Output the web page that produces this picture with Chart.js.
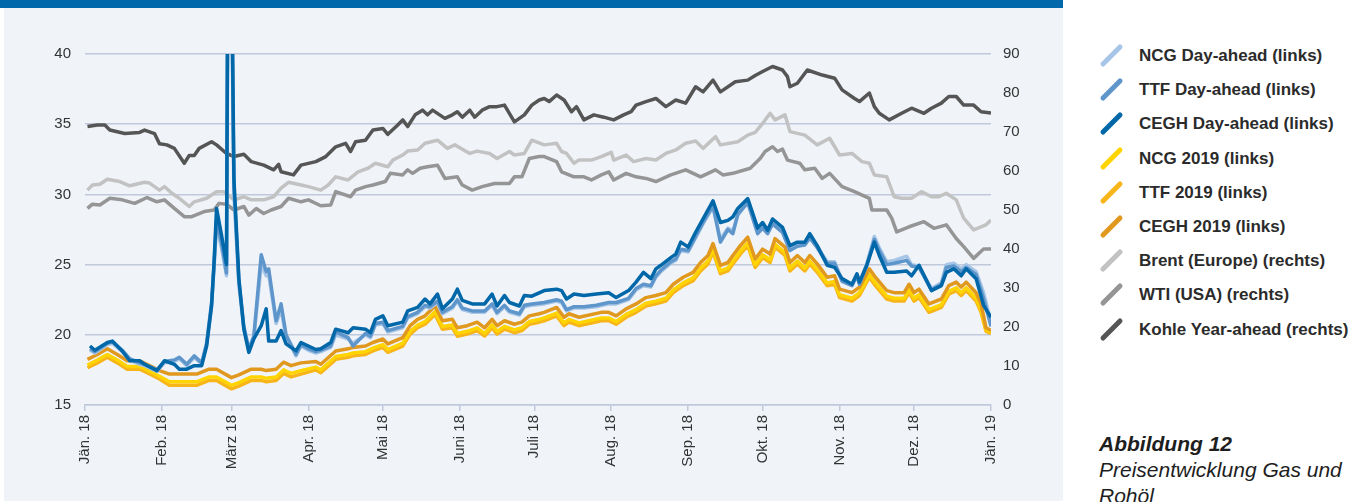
<!DOCTYPE html>
<html>
<head>
<meta charset="utf-8">
<script src="https://cdn.jsdelivr.net/npm/chart.js@4.4.1/dist/chart.umd.min.js"></script>
<style>
  html, body { margin: 0; padding: 0; background: #ffffff; }
  body { width: 1368px; height: 502px; overflow: hidden; position: relative; font-family: "Liberation Sans", Arial, sans-serif; }
  #bar { position: absolute; left: 0; top: 0; width: 1063px; height: 8px; background: #0068ab; }
  #panel { position: absolute; left: 4px; top: 8px; width: 1059px; height: 493px; background: #f0f4f9; }
  #wrap { position: absolute; left: 0; top: 8px; width: 1063px; height: 494px; }
  #legend { position: absolute; left: 1097px; top: 0; }
  .item { position: absolute; left: 0; height: 20px; white-space: nowrap; }
  .mark { position: absolute; left: 0; top: 7px; width: 29px; height: 5px; border-radius: 3px; transform: rotate(-45deg); }
  .txt { position: absolute; left: 42px; top: 0; font-weight: bold; font-size: 17px; line-height: 20px; color: #2b2b2b; }
  #caption { position: absolute; left: 1099px; top: 431px; font-size: 21px; line-height: 26px; color: #1e1e1e; font-style: italic; }
  #caption b { font-weight: bold; }
</style>
</head>
<body>
<div id="bar"></div>
<div id="panel"></div>
<div id="wrap"><canvas id="chart"></canvas></div>
<div id="legend"></div>
<div id="caption"><b>Abbildung 12</b><br>Preisentwicklung Gas und<br>Rohöl</div>
<script>
// x axis: day of year 2018 (0 = 1. Jän.)
const monthDays = [0, 31, 59, 90, 120, 151, 181, 212, 243, 273, 304, 334, 365];
const monthLabels = ['Jän. 18', 'Feb. 18', 'März 18', 'Apr. 18', 'Mai 18', 'Juni 18', 'Juli 18',
  'Aug. 18', 'Sep. 18', 'Okt. 18', 'Nov. 18', 'Dez. 18', 'Jän. 19'];

// Day-ahead (links, EUR/MWh)
const daDays = [
  2, 4, 9, 11, 15, 18, 22, 24, 29,
  32, 36, 38, 41, 44, 47, 49, 51, 52, 53, 55, 57, 58,
  60, 62, 64, 66, 68, 71, 73, 74, 77, 79, 81, 83, 85, 87,
  90, 93, 95, 99, 101, 106, 108, 113, 115, 117,
  120, 122, 128, 130, 134, 137, 139, 142, 144, 148, 150,
  152, 156, 161, 164, 166, 169, 171, 175, 177, 180,
  185, 190, 192, 194, 197, 201, 206, 211,
  214, 219, 222, 225, 228, 230, 232, 236, 238, 240,
  243, 246, 249, 253, 256, 259, 261, 263, 267, 271,
  273, 275, 277, 281, 284, 287, 290, 292, 295, 299, 302,
  305, 309, 311, 312, 315, 318, 320, 323, 326, 331, 333,
  336, 341, 345, 347, 350, 353, 355, 359, 362, 365];
const ceghDA = [
  19.2, 18.9, 19.45, 19.55, 18.85, 18.15, 18.15, 17.9, 17.45,
  18.15, 17.9, 17.55, 17.55, 17.8, 17.8, 19.2, 22.1, 25.2, 29.0, 27.1, 25.0, 65,
  31.1, 24.0, 20.4, 18.75, 19.7, 20.65, 21.85, 19.55, 19.55, 20.3, 19.35, 19.1, 18.85, 19.45,
  19.2, 18.95, 19.0, 19.45, 20.4, 20.15, 20.5, 20.4, 20.15, 21.1,
  21.35, 20.65, 20.9, 21.7, 21.95, 22.55, 22.2, 22.9, 21.85, 22.55, 23.25,
  22.45, 22.2, 22.2, 22.9, 22.05, 22.8, 22.3, 22.05, 22.8, 22.75,
  23.15, 23.25, 23.15, 22.55, 22.9, 22.8, 22.9, 23.0,
  22.65, 23.15, 23.75, 24.45, 24.0, 24.7, 24.95, 25.5, 25.75, 26.6,
  26.25, 27.3, 28.25, 29.55, 28.0, 28.15, 28.4, 29.0, 29.7, 27.6,
  28.0, 27.45, 28.25, 27.65, 26.35, 26.6, 26.6, 27.2, 26.35, 24.95, 24.8,
  24.0, 23.6, 24.35, 23.75, 24.95, 26.6, 25.65, 24.45, 24.45, 24.55, 24.2,
  24.95, 23.15, 23.5, 24.45, 24.7, 24.2, 24.7, 24.0, 22.1, 21.25];
const ttfDA = [
  19.0, 18.8, 19.4, 19.5, 18.9, 18.3, 18.0, 17.9, 17.5,
  18.1, 18.2, 18.4, 17.9, 18.5, 18.0, 19.4, 22.3, 25.0, 28.2, 26.5, 24.4, 63,
  30.5, 23.8, 20.6, 19.0, 19.9, 25.7, 24.5, 24.7, 21.0, 22.2, 20.0, 19.3, 18.6, 19.3,
  19.0, 18.8, 18.9, 19.2, 20.2, 19.8, 19.2, 20.1, 19.9, 20.8,
  20.9, 20.3, 20.6, 21.3, 21.6, 22.1, 22.0, 22.4, 21.6, 22.0, 22.5,
  21.9, 21.7, 21.7, 22.2, 21.6, 22.1, 21.7, 21.5, 22.1, 22.2,
  22.3, 22.5, 22.4, 21.8, 22.0, 22.0, 22.1, 22.3,
  22.3, 22.6, 23.3, 23.6, 23.5, 24.2, 24.6, 25.2, 25.4, 26.1,
  26.0, 27.0, 28.0, 29.2, 26.6, 27.5, 27.2, 28.6, 29.4, 27.2,
  27.6, 27.2, 27.9, 27.3, 26.0, 26.3, 26.4, 26.9, 26.2, 25.1, 25.1,
  23.8, 23.5, 24.2, 23.6, 25.0, 26.8, 26.0, 25.0, 25.1, 25.3, 24.9,
  24.8, 23.2, 23.6, 24.8, 24.9, 24.5, 24.8, 24.3, 22.6, 20.6];
const ncgDA = [
  18.9, 18.7, 19.3, 19.4, 18.8, 18.2, 17.9, 17.8, 17.4,
  18.0, 18.1, 18.3, 17.8, 18.4, 17.9, 19.3, 22.0, 24.8, 27.8, 26.2, 24.2, 62,
  30.0, 23.5, 20.4, 18.9, 19.7, 25.0, 24.2, 24.3, 20.8, 21.8, 19.8, 19.2, 18.5, 19.2,
  18.9, 18.7, 18.8, 19.1, 20.0, 19.7, 19.4, 20.0, 19.8, 20.7,
  20.8, 20.2, 20.5, 21.2, 21.5, 22.0, 21.9, 22.3, 21.5, 21.9, 22.4,
  21.8, 21.6, 21.6, 22.1, 21.5, 22.0, 21.6, 21.4, 22.0, 22.1,
  22.2, 22.4, 22.3, 21.7, 21.9, 21.9, 22.0, 22.2,
  22.2, 22.5, 23.2, 23.5, 23.4, 24.1, 24.5, 25.1, 25.3, 26.0,
  25.9, 26.9, 27.9, 29.1, 26.8, 27.6, 27.4, 28.5, 29.5, 27.4,
  27.7, 27.3, 28.0, 27.4, 26.1, 26.4, 26.5, 27.0, 26.3, 25.2, 25.2,
  23.9, 23.6, 24.3, 23.7, 25.1, 27.0, 26.2, 25.2, 25.3, 25.6, 25.0,
  24.9, 23.3, 23.7, 25.0, 25.1, 24.7, 25.0, 24.5, 23.0, 20.9];

// Year-ahead 2019 (links, EUR/MWh)
const fwdDays = [
  1, 5, 9, 13, 17, 22, 25, 30,
  34, 37, 41, 45, 50, 53, 59,
  62, 67, 71, 73, 77, 80, 83, 87,
  93, 95, 101, 106, 108, 113, 116,
  120, 122, 128, 131, 134, 137, 141, 144, 148, 150,
  154, 158, 161, 164, 166, 169, 173, 176, 179,
  183, 185, 190, 193, 195, 199, 208, 211,
  214, 218, 222, 226, 230, 234, 237, 241,
  245, 248, 251, 253, 256, 259, 261, 264, 267, 270,
  273, 276, 278, 282, 284, 287, 290, 292, 295, 299, 302,
  304, 309, 312, 316, 318, 323, 326, 330, 332, 334,
  336, 340, 345, 348, 351, 353, 355, 359, 361, 363, 365];
const cegh2019 = [
  18.25, 18.6, 19.0, 18.6, 18.15, 18.15, 17.9, 17.45,
  17.2, 17.2, 17.2, 17.2, 17.55, 17.55, 16.95,
  17.15, 17.55, 17.55, 17.45, 17.55, 18.05, 17.8, 18.0,
  18.1, 17.9, 18.85, 19.0, 19.1, 19.2, 19.45,
  19.7, 19.35, 19.8, 20.65, 21.1, 21.35, 22.05, 21.0, 21.1, 20.5,
  20.65, 20.9, 20.5, 21.1, 20.65, 21.0, 20.75, 20.9, 21.35,
  21.5, 21.6, 21.95, 21.25, 21.5, 21.25, 21.6, 21.6,
  21.35, 21.85, 22.2, 22.65, 22.8, 23.0, 23.6, 24.1,
  24.45, 25.15, 25.65, 26.5, 24.95, 25.15, 25.65, 26.35, 26.95, 25.4,
  26.1, 25.75, 26.85, 26.25, 25.15, 25.65, 25.15, 25.65, 25.05, 24.1, 24.2,
  23.25, 23.0, 23.4, 24.7, 24.2, 23.15, 23.0, 23.0, 23.6, 23.0,
  23.25, 22.2, 22.55, 23.5, 23.75, 23.4, 23.75, 23.0, 22.2, 20.5, 20.3];
const ncg2019 = [
  17.85, 18.2, 18.6, 18.2, 17.75, 17.75, 17.5, 17.05,
  16.65, 16.65, 16.65, 16.65, 17.0, 17.0, 16.4,
  16.6, 17.0, 17.0, 16.9, 17.0, 17.5, 17.25, 17.45,
  17.7, 17.5, 18.45, 18.6, 18.7, 18.8, 19.05,
  19.3, 18.95, 19.4, 20.25, 20.7, 20.95, 21.65, 20.6, 20.7, 20.1,
  20.25, 20.5, 20.1, 20.7, 20.25, 20.6, 20.35, 20.5, 20.95,
  21.1, 21.2, 21.55, 20.85, 21.1, 20.85, 21.2, 21.2,
  20.95, 21.45, 21.8, 22.25, 22.4, 22.6, 23.2, 23.7,
  24.05, 24.75, 25.25, 26.1, 24.55, 24.75, 25.25, 25.95, 26.55, 25.0,
  25.7, 25.35, 26.45, 25.85, 24.75, 25.25, 24.75, 25.25, 24.65, 23.7, 23.8,
  22.85, 22.6, 23.0, 24.3, 23.8, 22.75, 22.6, 22.6, 23.2, 22.6,
  22.85, 21.8, 22.15, 23.1, 23.35, 23.0, 23.35, 22.6, 21.8, 20.35, 20.2];
const ttf2019 = [
  17.65, 18.0, 18.4, 18.0, 17.55, 17.55, 17.3, 16.85,
  16.4, 16.4, 16.4, 16.4, 16.75, 16.75, 16.15,
  16.35, 16.75, 16.75, 16.65, 16.75, 17.25, 17.0, 17.2,
  17.5, 17.3, 18.25, 18.4, 18.5, 18.6, 18.85,
  19.1, 18.75, 19.2, 20.05, 20.5, 20.75, 21.45, 20.4, 20.5, 19.9,
  20.05, 20.3, 19.9, 20.5, 20.05, 20.4, 20.15, 20.3, 20.75,
  20.9, 21.0, 21.35, 20.65, 20.9, 20.65, 21.0, 21.0,
  20.75, 21.25, 21.6, 22.05, 22.2, 22.4, 23.0, 23.5,
  23.85, 24.55, 25.05, 25.9, 24.35, 24.55, 25.05, 25.75, 26.35, 24.8,
  25.5, 25.15, 26.25, 25.65, 24.55, 25.05, 24.55, 25.05, 24.45, 23.5, 23.6,
  22.65, 22.4, 22.8, 24.1, 23.6, 22.55, 22.4, 22.4, 23.0, 22.4,
  22.65, 21.6, 21.95, 22.9, 23.15, 22.8, 23.15, 22.4, 21.6, 20.25, 20.1];

// Öl und Kohle (rechts)
const brentDays = [1, 3, 6, 9, 14, 18, 24, 26, 30, 32, 35, 38, 42, 44, 49, 53, 56, 60, 64, 67, 72, 76, 79, 82, 87,
  90, 95, 98, 101, 106, 110, 114, 117, 122, 124, 128, 130, 134, 137, 142, 146, 149, 155, 158, 163, 166, 171, 173, 177, 180,
  185, 190, 192, 194, 197, 199, 204, 208, 212, 213, 218, 221, 226, 230, 234, 238, 242, 246, 249, 254, 256, 263, 267, 270,
  273, 276, 278, 282, 284, 290, 295, 300, 304, 309, 313, 316, 318, 323, 326, 329, 333, 337, 341, 344, 347, 351, 354, 358, 363, 365];
const brent = [55.1, 56.4, 56.6, 57.9, 57.3, 56.2, 57.1, 56.9, 55.1, 56.0, 54.3, 53.0, 50.9, 52.1, 53.0, 54.7, 54.7, 52.6, 53.4, 52.6, 52.6, 53.4, 55.6, 57.1, 56.4,
  56.0, 55.1, 56.4, 58.5, 57.7, 59.8, 60.7, 62.0, 61.1, 62.8, 64.1, 65.1, 65.4, 67.1, 67.9, 65.8, 66.7, 64.5, 65.1, 64.5, 63.2, 65.0, 64.1, 64.5, 67.9,
  66.7, 67.1, 65.0, 64.5, 62.0, 62.8, 62.8, 63.7, 64.8, 62.8, 64.1, 62.4, 63.2, 62.8, 64.5, 65.4, 67.1, 67.7, 65.8, 68.8, 66.7, 67.5, 69.2, 69.9,
  72.2, 74.8, 73.1, 74.4, 70.1, 69.2, 66.7, 68.4, 64.1, 64.5, 62.4, 62.0, 59.0, 58.5, 53.4, 53.0, 53.0, 54.7, 53.4, 53.4, 54.3, 52.6, 47.9, 44.9, 46.2, 47.4];
const wtiDays = [1, 3, 6, 10, 15, 20, 25, 29, 32, 36, 40, 43, 48, 52, 54, 57, 60, 64, 66, 69, 72, 75, 79, 82, 87,
  90, 95, 99, 101, 107, 109, 113, 116, 121, 123, 128, 130, 132, 135, 138, 142, 145, 150, 152, 156, 160, 165, 171, 173, 176, 179,
  183, 185, 190, 192, 197, 201, 204, 208, 211, 213, 218, 222, 226, 230, 236, 242, 248, 254, 257, 261, 268, 272,
  274, 277, 279, 281, 283, 288, 290, 294, 297, 300, 305, 310, 316, 317, 323, 325, 327, 332, 338, 342, 347, 351, 354, 358, 362, 365];
const wti = [50.4, 51.5, 51.3, 53.0, 52.6, 51.7, 53.2, 52.1, 52.6, 50.4, 48.3, 48.3, 49.6, 50.0, 51.7, 51.5, 50.0, 50.9, 48.7, 50.4, 49.1, 50.0, 50.9, 53.0, 52.1,
  52.6, 51.1, 51.3, 54.7, 53.4, 55.1, 56.0, 56.4, 57.3, 59.4, 59.0, 60.3, 59.4, 60.7, 61.1, 61.5, 58.1, 58.5, 56.4, 55.1, 56.0, 56.8, 56.8, 58.5, 58.5, 63.2,
  63.7, 63.7, 62.4, 59.8, 58.5, 58.5, 57.7, 59.0, 59.8, 57.7, 59.4, 58.5, 58.1, 57.3, 59.0, 60.3, 58.5, 60.3, 59.0, 59.4, 60.7, 63.2,
  65.0, 66.2, 65.0, 65.6, 62.8, 62.0, 60.3, 60.7, 58.1, 59.4, 56.0, 54.7, 53.0, 50.0, 50.0, 47.9, 44.4, 45.7, 47.0, 45.3, 46.2, 42.7, 40.6, 37.6, 40.0, 40.0];
const kohleDays = [1, 5, 8, 10, 16, 22, 24, 28, 30, 33, 36, 40, 42, 44, 46, 51, 53, 57, 60, 64, 67, 72, 76, 78, 79, 84, 87,
  93, 97, 101, 105, 107, 109, 113, 116, 120, 122, 126, 128, 130, 133, 136, 138, 140, 145, 148, 150, 152, 155, 157, 160, 163, 166, 169, 173, 177, 180,
  183, 185, 187, 190, 193, 196, 198, 201, 205, 209, 213, 217, 220, 222, 226, 230, 234, 238, 242, 246, 249, 253, 256, 262, 267, 270,
  273, 277, 281, 283, 284, 287, 291, 297, 302, 305, 310, 312, 316, 318, 320, 324, 329, 333, 338, 341, 345, 348, 351, 354, 358, 361, 365];
const kohle = [71.4, 71.8, 71.8, 70.5, 69.6, 69.9, 70.5, 69.6, 67.0, 66.7, 65.8, 62.0, 64.0, 64.0, 65.8, 67.5, 66.7, 64.5, 63.7, 64.3, 62.4, 61.5, 60.3, 61.7, 59.8, 59.0, 61.5,
  62.4, 63.7, 66.2, 67.1, 65.0, 67.5, 67.9, 70.5, 70.9, 69.4, 71.8, 73.1, 71.4, 74.4, 75.6, 74.4, 75.6, 73.5, 74.4, 75.2, 73.8, 75.6, 73.8, 75.6, 76.5, 76.5, 76.9, 72.6, 74.4, 76.9,
  78.2, 78.6, 77.8, 79.5, 78.2, 75.2, 76.5, 73.1, 74.4, 73.8, 73.1, 74.4, 75.2, 76.9, 77.8, 78.6, 76.5, 78.2, 77.4, 81.6, 80.3, 83.3, 80.3, 82.9, 83.3, 84.5,
  85.5, 86.8, 85.9, 84.2, 81.6, 82.5, 85.9, 84.6, 83.8, 80.8, 78.6, 77.8, 80.0, 76.5, 74.8, 73.1, 74.8, 76.1, 74.8, 76.1, 77.4, 79.1, 79.1, 76.9, 76.9, 75.2, 74.9];

// legend order as in the figure
const seriesInfo = [
  { label: 'NCG Day-ahead (links)', color: '#a7c5e6', days: daDays, values: ncgDA, axis: 'y' },
  { label: 'TTF Day-ahead (links)', color: '#5e96cb', days: daDays, values: ttfDA, axis: 'y' },
  { label: 'CEGH Day-ahead (links)', color: '#0067a9', days: daDays, values: ceghDA, axis: 'y' },
  { label: 'NCG 2019 (links)', color: '#ffd400', days: fwdDays, values: ncg2019, axis: 'y' },
  { label: 'TTF 2019 (links)', color: '#f8b51a', days: fwdDays, values: ttf2019, axis: 'y' },
  { label: 'CEGH 2019 (links)', color: '#e0981f', days: fwdDays, values: cegh2019, axis: 'y' },
  { label: 'Brent (Europe) (rechts)', color: '#c2c2c2', days: brentDays, values: brent, axis: 'y1' },
  { label: 'WTI (USA) (rechts)', color: '#959595', days: wtiDays, values: wti, axis: 'y1' },
  { label: 'Kohle Year-ahead (rechts)', color: '#555555', days: kohleDays, values: kohle, axis: 'y1' }
];

// draw order: first dataset ends on top
const drawOrder = [2, 1, 0, 5, 3, 4, 8, 7, 6];

const gridColor = '#bfc9db';
const tickFont = { family: "'Liberation Sans', Arial, sans-serif", size: 15 };

function buildDatasets() {
  return drawOrder.map(i => {
    const s = seriesInfo[i];
    return {
      label: s.label,
      data: s.days.map((d, k) => ({ x: d, y: s.values[k] })),
      borderColor: s.color,
      backgroundColor: s.color,
      borderWidth: 3.5,
      pointRadius: 0,
      tension: 0,
      borderJoinStyle: 'round',
      yAxisID: s.axis
    };
  });
}

function buildLegend() {
  const box = document.getElementById('legend');
  seriesInfo.forEach((s, i) => {
    const item = document.createElement('div');
    item.className = 'item';
    item.style.top = (46 + i * 34.2) + 'px';
    item.innerHTML = '<div class="mark" style="background:' + s.color + '"></div><div class="txt">' + s.label + '</div>';
    box.appendChild(item);
  });
}

new Chart(document.getElementById('chart'), {
  type: 'line',
  data: { datasets: buildDatasets() },
  options: {
    responsive: true,
    maintainAspectRatio: false,
    animation: false,
    layout: { padding: { top: 46, left: 0, right: 0, bottom: 0 } },
    plugins: { legend: { display: false }, tooltip: { enabled: false } },
    scales: {
      x: {
        type: 'linear',
        min: 0,
        max: 365,
        afterBuildTicks: axis => { axis.ticks = monthDays.map(v => ({ value: v })); },
        afterFit: axis => { axis.height = 97; },
        grid: { drawOnChartArea: false, drawTicks: true, tickLength: 6, color: gridColor, lineWidth: 1.5 },
        border: { display: true, color: gridColor, width: 1.5 },
        ticks: {
          autoSkip: false,
          maxRotation: 90,
          minRotation: 90,
          padding: 4,
          color: '#333333',
          font: tickFont,
          callback: (value, index) => monthLabels[index]
        }
      },
      y: {
        position: 'left',
        min: 15,
        max: 40,
        afterFit: axis => { axis.width = 85; },
        grid: { color: gridColor, lineWidth: 1.5, drawTicks: false },
        border: { display: false },
        ticks: { stepSize: 5, padding: 14, color: '#333333', font: tickFont }
      },
      y1: {
        position: 'right',
        min: 0,
        max: 90,
        afterFit: axis => { axis.width = 72; },
        grid: { display: false, drawTicks: false },
        border: { display: false },
        ticks: { stepSize: 10, padding: 12, color: '#333333', font: tickFont }
      }
    }
  }
});

buildLegend();
</script>
</body>
</html>
